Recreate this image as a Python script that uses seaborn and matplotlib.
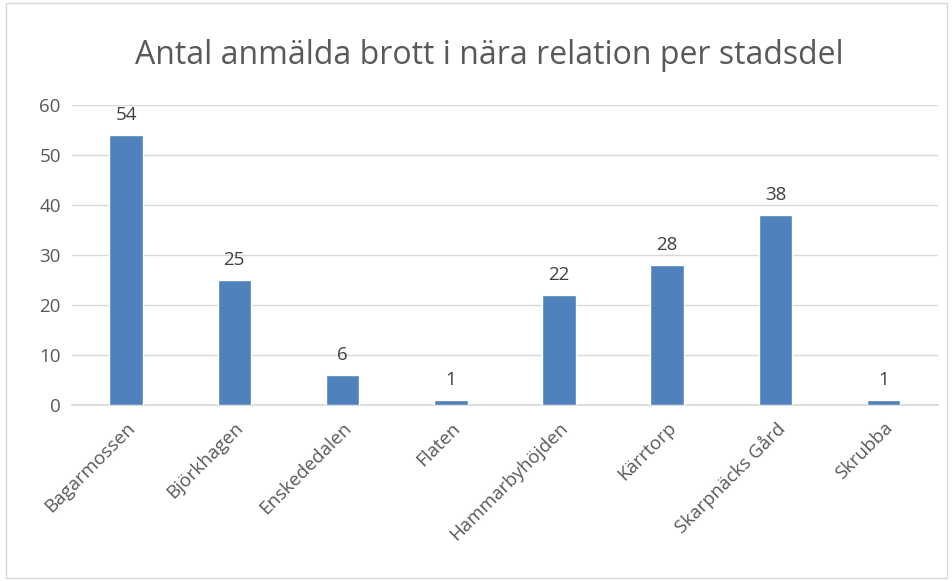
import matplotlib
matplotlib.use('Agg')
import matplotlib.pyplot as plt
import seaborn as sns
import pandas as pd

# Data
stadsdelar = ['Bagarmossen', 'Björkhagen', 'Enskededalen', 'Flaten',
              'Hammarbyhöjden', 'Kärrtorp', 'Skarpnäcks Gård', 'Skrubba']
antal = [54, 25, 6, 1, 22, 28, 38, 1]
yticks = [0, 10, 20, 30, 40, 50, 60]

df = pd.DataFrame({'stadsdel': stadsdelar, 'antal': antal})

sns.set_theme(style='white')
plt.rcParams['font.family'] = ['Open Sans', 'DejaVu Sans']

fig = plt.figure(figsize=(9.53, 5.81), dpi=100)
ax = fig.add_axes([0.0755, 0.3029, 0.9085, 0.5164])

sns.barplot(data=df, x='stadsdel', y='antal', color='#4F81BD', width=0.31,
            saturation=1, ax=ax, zorder=3)

for i, v in enumerate(antal):
    ax.text(i, v + 2.2, str(v), ha='center', va='bottom', fontsize=13.5, color='#404040')

ax.set_ylim(0, 60)
ax.set_yticks(yticks)
ax.yaxis.grid(True, color='#D9D9D9', linewidth=1, zorder=0)
ax.set_xlabel('')
ax.set_ylabel('')
for s in ['top', 'right', 'left']:
    ax.spines[s].set_visible(False)
ax.spines['bottom'].set_color('#D9D9D9')
ax.tick_params(axis='both', length=0, labelsize=13.5, labelcolor='#595959')
ax.tick_params(axis='y', pad=8)
plt.setp(ax.get_xticklabels(), rotation=45, ha='right', rotation_mode='anchor')
ax.tick_params(axis='x', pad=10)

fig.text(0.513, 0.905, 'Antal anmälda brott i nära relation per stadsdel',
         ha='center', va='center', fontsize=23, color='#595959')

# outer chart border
fig.patches.append(plt.Rectangle((0.006, 0.005), 0.988, 0.99, transform=fig.transFigure,
                                 fill=False, edgecolor='#D9D9D9', linewidth=1))

fig.savefig('out.png', dpi=100)
